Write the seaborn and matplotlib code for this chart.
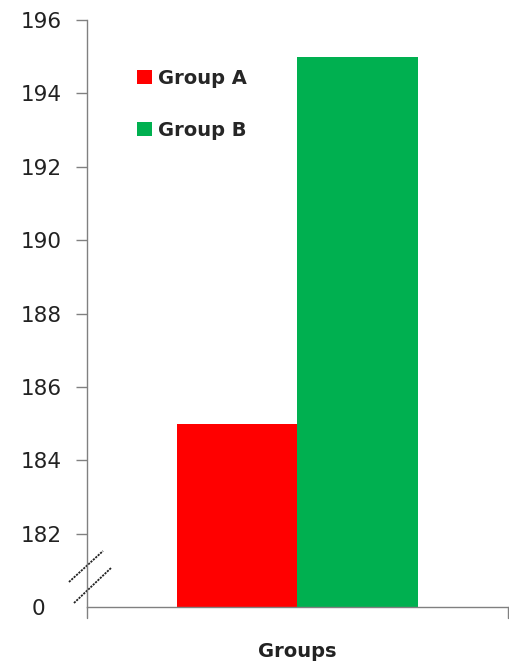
import matplotlib
matplotlib.use("Agg")
import matplotlib.pyplot as plt
import matplotlib.transforms as mtransforms
import seaborn as sns
import pandas as pd

groups = ["Group A", "Group B"]
values = [185, 195]
category = ["Groups", "Groups"]
colors = ["#ff0000", "#00b050"]
ytick_values = [180, 182, 184, 186, 188, 190, 192, 194, 196]
ytick_labels = ["0", "182", "184", "186", "188", "190", "192", "194", "196"]

df = pd.DataFrame({"cat": category, "group": groups, "value": values})

sns.set_style("white")
plt.rcParams["font.family"] = ["DejaVu Sans"]

fig = plt.figure(figsize=(5.1, 6.65), dpi=100)
ax = fig.add_axes([87 / 510, 1 - 607 / 665, (508 - 87) / 510, (607 - 20) / 665])

sns.barplot(data=df, x="cat", y="value", hue="group", palette=colors,
            width=0.572, ax=ax, saturation=1, legend=True, linewidth=0)

ax.set_ylim(180, 196)
ax.set_xlim(-0.5, 0.5)
ax.set_yticks(ytick_values)
ax.set_yticklabels(ytick_labels, fontsize=15.5, color="#222222")
ax.set_xticks([])
ax.set_xlabel("Groups", fontsize=14, fontweight="bold", labelpad=25, color="#222222")
ax.set_ylabel("")

for s in ["top", "right"]:
    ax.spines[s].set_visible(False)
for s in ["left", "bottom"]:
    ax.spines[s].set_color("#808080")
    ax.spines[s].set_linewidth(1.0)

ax.tick_params(axis="y", direction="out", length=8, width=1, color="#808080", left=True, pad=10)

# the "0" label sits further left, with no tick mark (axis break)
yt = ax.yaxis.get_major_ticks()[0]
yt.tick1line.set_visible(False)
yt.label1.set_transform(yt.label1.get_transform() +
                        mtransforms.ScaledTranslation(-17 / 100, 0, fig.dpi_scale_trans))

# category boundary ticks on the x axis
for xv in [-0.5, 0.5]:
    ax.plot([xv, xv], [0, -0.018], transform=ax.get_xaxis_transform(),
            color="#808080", lw=1, clip_on=False)

# axis break marks
breaks = [((-0.0428, 0.0426), (0.038, 0.0954)), ((-0.0309, 0.0068), (0.057, 0.0664))]
for (x0, y0), (x1, y1) in breaks:
    ax.plot([x0, x1], [y0, y1], transform=ax.transAxes, color="#222222",
            lw=1.3, ls=(0, (1.2, 0.6)), clip_on=False)

ax.legend(loc="upper left", bbox_to_anchor=((137 - 87) / 421, (607 - 69) / 587), frameon=False,
          borderpad=0, borderaxespad=0,
          handlelength=0.75, handleheight=0.75, handletextpad=0.35,
          labelspacing=1.7, prop={"size": 14, "weight": "bold"})

fig.savefig("out.png", dpi=100)
